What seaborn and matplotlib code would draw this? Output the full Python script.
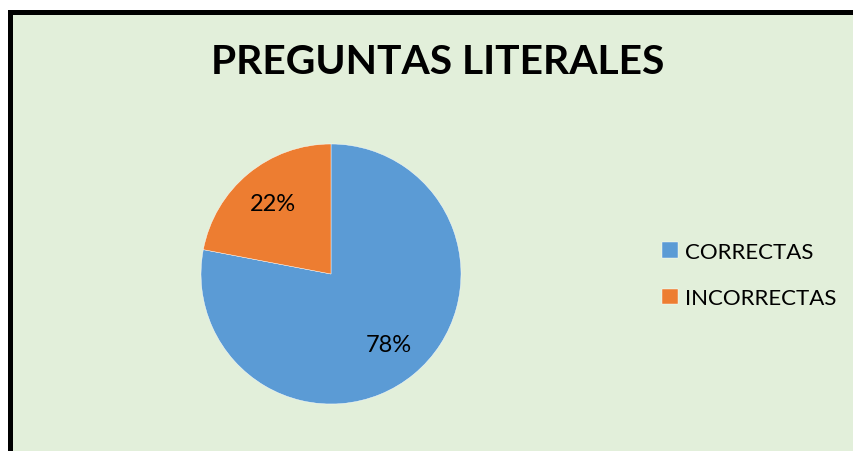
import matplotlib
matplotlib.use("Agg")
import matplotlib.pyplot as plt
from matplotlib.patches import Rectangle
import seaborn as sns

categories = ["CORRECTAS", "INCORRECTAS"]
values = [78, 22]
title = "PREGUNTAS LITERALES"

sns.set_theme(style="white")
plt.rcParams["font.family"] = ["Lato", "DejaVu Sans"]
plt.rcParams["text.color"] = "black"

colors = ["#5B9BD5", "#ED7D31"]
bg = "#E2EFDA"

W, H = 854, 452
fig = plt.figure(figsize=(W / 100, H / 100), dpi=100)
fig.patch.set_facecolor("white")

# chart area with a black frame on the left and top edges
fig.patches.append(Rectangle((10.5 / W, -0.1), 1.2, (H - 12.5) / H + 0.1,
                             transform=fig.transFigure, facecolor=bg,
                             edgecolor="black", linewidth=3.6, zorder=-5))

cx, cy, r = 331, 275, 130
ax = fig.add_axes([(cx - r) / W, (H - cy - r) / H, 2 * r / W, 2 * r / H])
ax.set_zorder(2)
ax.set_facecolor("none")
wedges, _, autotexts = ax.pie(
    values, colors=colors, startangle=90, counterclock=False,
    autopct=lambda p: f"{p:.0f}%", pctdistance=0.7,
    wedgeprops=dict(edgecolor="white", linewidth=0.3),
    textprops=dict(fontsize=17, color="black"))
ax.set_xlim(-1, 1)
ax.set_ylim(-1, 1)
ax.set_aspect("equal")
ax.axis("off")

fig.text(438 / W, 1 - 62 / H, title, ha="center", va="center",
         fontsize=29.3, fontweight="bold", color="black", zorder=3)

leg = fig.legend(wedges, categories, loc="center left",
                 bbox_to_anchor=(642 / W, 1 - 276 / H), frameon=False,
                 fontsize=16, handlelength=0.7, handleheight=0.7,
                 handletextpad=0.35, labelspacing=1.2)
for t in leg.get_texts():
    t.set_color("black")

fig.savefig("out.png", dpi=100, facecolor=fig.get_facecolor())
